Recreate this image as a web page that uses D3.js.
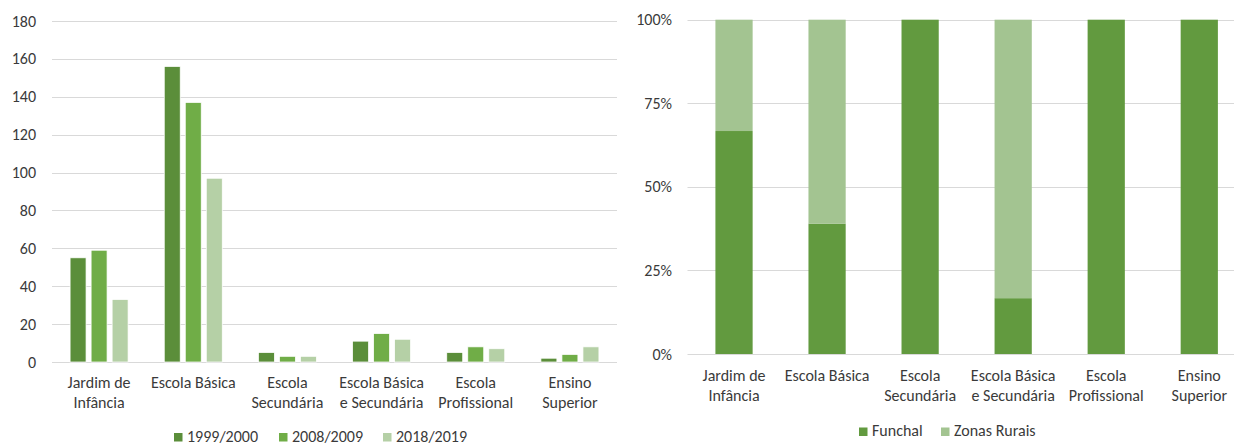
<!DOCTYPE html>
<html>
<head>
<meta charset="utf-8">
<script src="https://cdn.jsdelivr.net/npm/d3@7"></script>
<style>
  body { margin: 0; background: #fff; }
  svg { display: block; }
  text { font-family: Carlito, Calibri, Lato, sans-serif; fill: #3a3a3a; }
  .grid line { stroke: #d9d9d9; }
</style>
</head>
<body>
<script>

// Data
var categories = ["Jardim de Infância", "Escola Básica", "Escola Secundária",
  "Escola Básica e Secundária", "Escola Profissional", "Ensino Superior"];
var categoryLines = [["Jardim de", "Infância"], ["Escola Básica"], ["Escola", "Secundária"],
  ["Escola Básica", "e Secundária"], ["Escola", "Profissional"], ["Ensino", "Superior"]];

var years = ["1999/2000", "2008/2009", "2018/2019"];
var schools1999 = [55, 156, 5, 11, 5, 2];
var schools2008 = [59, 137, 3, 15, 8, 4];
var schools2018 = [33, 97, 3, 12, 7, 8];
var countTicks = [0, 20, 40, 60, 80, 100, 120, 140, 160, 180];

var zones = ["Funchal", "Zonas Rurais"];
var shareFunchal = [0.667, 0.39, 1, 0.167, 1, 1];
var shareRural = [0.333, 0.61, 0, 0.833, 0, 0];
var shareTicks = [0, 0.25, 0.5, 0.75, 1];

var yearColors = ["#5b8e3a", "#70ad47", "#b5d0a6"];
var zoneColors = ["#629a3f", "#a3c491"];

window.chart = {

//------------------------------------------------------------------------------
//
// Properties
//
//------------------------------------------------------------------------------

width: 1234,

height: 445,

fontSize: 16,

//------------------------------------------------------------------------------
//
// Methods
//
//------------------------------------------------------------------------------

initialize : function() {
  this.svg = d3.select("body").append("svg")
    .attr("width", this.width)
    .attr("height", this.height);
  this.drawCounts();
  this.drawShares();
},

//--------------------------------------
// Left chart: grouped bars
//--------------------------------------

drawCounts : function() {
  var g = this.svg.append("g");
  var series = [schools1999, schools2008, schools2018];

  var x0 = d3.scaleBand().domain(categories).range([52, 617])
    .paddingInner(0.384).paddingOuter(0.192);
  var x1 = d3.scaleBand().domain(years).range([0, x0.bandwidth()]).paddingInner(0.24);
  var y = d3.scaleLinear().domain([0, 180]).range([362, 21]);

  this.grid(g, y, countTicks, 52, 617, 36, function(d) { return d; });

  years.forEach(function(yr, s) {
    g.append("g").selectAll("rect")
      .data(series[s])
      .join("rect")
        .attr("x", function(d, i) { return x0(categories[i]) + x1(yr); })
        .attr("y", function(d) { return y(d); })
        .attr("width", x1.bandwidth())
        .attr("height", function(d) { return y(0) - y(d); })
        .attr("fill", yearColors[s])
        .attr("stroke", "#fff")
        .attr("stroke-width", 0.75);
  });

  this.categoryLabels(g, x0, 388);
  this.legend(g, years, yearColors, [174, 279, 383], 441.5);
},

//--------------------------------------
// Right chart: 100% stacked bars
//--------------------------------------

drawShares : function() {
  var g = this.svg.append("g");
  var rows = categories.map(function(c, i) {
    return {cat: c, "Funchal": shareFunchal[i], "Zonas Rurais": shareRural[i]};
  });
  var stack = d3.stack().keys(zones)(rows);

  var x = d3.scaleBand().domain(categories).range([687.5, 1245.8])
    .paddingInner(0.6).paddingOuter(0.3);
  var y = d3.scaleLinear().domain([0, 1]).range([354, 19.7]);

  this.grid(g, y, shareTicks, 687.5, 1245.8, 672, d3.format(".0%"));

  stack.forEach(function(layer, s) {
    g.append("g").selectAll("rect")
      .data(layer.filter(function(d) { return d[1] > d[0]; }))
      .join("rect")
        .attr("x", function(d) { return x(d.data.cat); })
        .attr("y", function(d) { return y(d[1]); })
        .attr("width", x.bandwidth())
        .attr("height", function(d) { return y(d[0]) - y(d[1]); })
        .attr("fill", zoneColors[s]);
  });

  this.categoryLabels(g, x, 381);
  this.legend(g, zones, zoneColors, [859, 941], 436);
},

//--------------------------------------
// Helpers
//--------------------------------------

grid : function(g, y, ticks, x0, x1, labelX, fmt) {
  var $this = this;
  g.append("g").attr("class", "grid").selectAll("line")
    .data(ticks)
    .join("line")
      .attr("x1", x0).attr("x2", x1)
      .attr("y1", function(d) { return Math.round(y(d)) + 0.5; })
      .attr("y2", function(d) { return Math.round(y(d)) + 0.5; })
      .attr("stroke-width", 1);
  g.append("g").selectAll("text")
    .data(ticks)
    .join("text")
      .attr("x", labelX)
      .attr("y", function(d) { return y(d); })
      .attr("dy", "0.35em")
      .attr("text-anchor", "end")
      .style("font-size", $this.fontSize + "px")
      .text(fmt);
},

categoryLabels : function(g, x, baseY) {
  var $this = this;
  g.append("g").selectAll("text")
    .data(categories)
    .join("text")
      .attr("text-anchor", "middle")
      .attr("transform", function(d) { return "translate(" + (x(d) + x.bandwidth() / 2) + "," + baseY + ")"; })
      .style("font-size", $this.fontSize + "px")
      .each(function(d, i) {
        d3.select(this).selectAll("tspan")
          .data(categoryLines[i])
          .join("tspan")
            .attr("x", 0)
            .attr("y", function(t, j) { return j * 20; })
            .text(function(t) { return t; });
      });
},

legend : function(g, keys, colors, xs, bottom) {
  var $this = this;
  var item = g.append("g").selectAll("g")
    .data(keys)
    .join("g")
      .attr("transform", function(d, i) { return "translate(" + xs[i] + "," + bottom + ")"; });
  item.append("rect")
    .attr("x", 0).attr("y", -8.5)
    .attr("width", 8.5).attr("height", 8.5)
    .attr("fill", function(d, i) { return colors[i]; });
  item.append("text")
    .attr("x", 13).attr("y", 0)
    .style("font-size", $this.fontSize + "px")
    .text(function(d) { return d; });
}

};

chart.initialize();

</script>
</body>
</html>
